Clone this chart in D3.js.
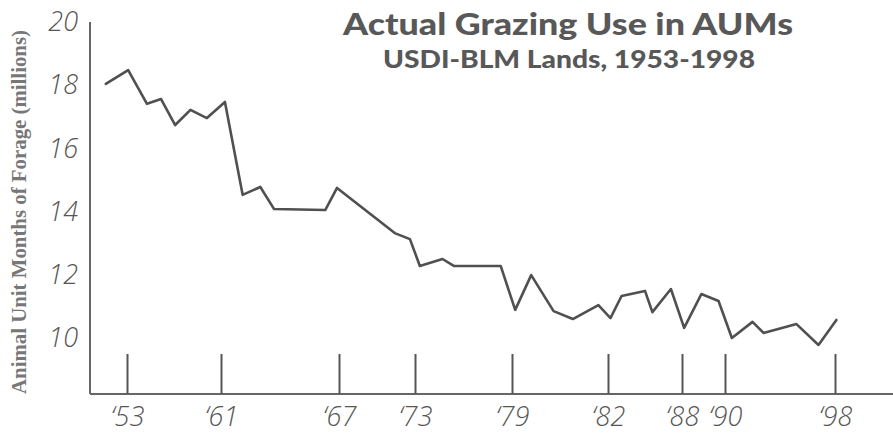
<!DOCTYPE html>
<html>
<head>
<meta charset="utf-8">
<script src="https://cdn.jsdelivr.net/npm/d3@7"></script>
<style>
  body { margin: 0; background: #fff; }
  svg { display: block; }
  .hand { font-family: "Open Sans", sans-serif; font-style: italic; font-weight: 300; fill: #555; }
</style>
</head>
<body>
<div id="chart"></div>
<script>
// values (x in years, y in millions of AUMs)
const years = [1951.2, 1953.1, 1954.7, 1955.9, 1957.1, 1958.4, 1959.8, 1961.2, 1962.1, 1963.0,
               1963.7, 1966.3, 1966.9, 1971.4, 1972.6, 1973.3, 1974.7, 1975.4, 1978.3, 1979.1,
               1979.6, 1980.3, 1980.9, 1981.7, 1982.2, 1983.1, 1985.0, 1985.6, 1987.1, 1988.1,
               1988.9, 1989.7, 1990.5, 1992.0, 1992.8, 1995.2, 1996.8, 1998.1];
const aums = [18.04, 18.48, 17.41, 17.56, 16.74, 17.22, 16.96, 17.47, 14.53, 14.78,
              14.08, 14.05, 14.75, 13.32, 13.13, 12.28, 12.50, 12.28, 12.28, 10.89,
              11.99, 10.85, 10.60, 11.04, 10.63, 11.33, 11.49, 10.82, 11.55, 10.32,
              11.39, 11.17, 10.00, 10.51, 10.16, 10.44, 9.78, 10.57];
const tickYears = [1953, 1961, 1967, 1973, 1979, 1982, 1988, 1990, 1998];
const tickLabels = ["\u201853", "\u201861", "\u201867", "\u201873", "\u201879", "\u201882", "\u201888", "\u201890", "\u201898"];
const yTicks = [10, 12, 14, 16, 18, 20];

const width = 893, height = 437;
const axisX = 90, axisY = 394;

const svg = d3.select("#chart").append("svg")
    .attr("width", width)
    .attr("height", height);

// the drawing's year spacing is uneven, so the x scale is piecewise
const x = d3.scaleLinear()
    .domain(tickYears)
    .range([127, 221, 339, 415, 512, 608, 682, 725, 835]);

const y = d3.scaleLinear()
    .domain([10, 20])
    .range([338, 22]);

// axes lines
svg.append("line")
    .attr("x1", axisX).attr("x2", axisX)
    .attr("y1", 22).attr("y2", axisY)
    .attr("stroke", "#666").attr("stroke-width", 2);

svg.append("line")
    .attr("x1", axisX).attr("x2", width)
    .attr("y1", axisY).attr("y2", axisY)
    .attr("stroke", "#666").attr("stroke-width", 2);

// x ticks pointing up, labels below
const xAxis = d3.axisBottom(x)
    .tickValues(tickYears)
    .tickSizeInner(-40)
    .tickSizeOuter(0)
    .tickPadding(13)
    .tickFormat((d, i) => tickLabels[i]);

const gx = svg.append("g")
    .attr("transform", `translate(0,${axisY})`)
    .call(xAxis);
gx.select(".domain").remove();
gx.selectAll(".tick line").attr("stroke", "#555").attr("stroke-width", 2);
gx.selectAll(".tick text")
    .attr("class", "hand")
    .attr("font-size", 27);

// y labels, no tick marks
const yAxis = d3.axisLeft(y)
    .tickValues(yTicks)
    .tickSize(0)
    .tickPadding(6)
    .tickFormat(d3.format("d"));

const gy = svg.append("g")
    .attr("transform", "translate(84,0)")
    .call(yAxis);
gy.select(".domain").remove();
gy.selectAll(".tick text")
    .attr("class", "hand")
    .attr("font-size", 27);

// y axis title
svg.append("text")
    .attr("transform", "translate(26,212) rotate(-90)")
    .attr("text-anchor", "middle")
    .attr("font-family", "Liberation Serif, serif")
    .attr("font-weight", "bold")
    .attr("font-size", 20)
    .attr("fill", "#777")
    .attr("textLength", 364)
    .attr("lengthAdjust", "spacingAndGlyphs")
    .text("Animal Unit Months of Forage (millions)");

// data line
const line = d3.line()
    .x((d, i) => x(years[i]))
    .y(d => y(d));

svg.append("path")
    .datum(aums)
    .attr("d", line)
    .attr("fill", "none")
    .attr("stroke", "#505050")
    .attr("stroke-width", 2.6)
    .attr("stroke-linejoin", "round")
    .attr("stroke-linecap", "round");

// title
svg.append("text")
    .attr("x", 568).attr("y", 35)
    .attr("text-anchor", "middle")
    .attr("font-family", "Lato, sans-serif")
    .attr("font-weight", 900)
    .attr("font-size", 31)
    .attr("fill", "#585858")
    .attr("textLength", 450)
    .attr("lengthAdjust", "spacingAndGlyphs")
    .text("Actual Grazing Use in AUMs");

svg.append("text")
    .attr("x", 569).attr("y", 68)
    .attr("text-anchor", "middle")
    .attr("font-family", "Lato, sans-serif")
    .attr("font-weight", 900)
    .attr("font-size", 25)
    .attr("fill", "#585858")
    .attr("textLength", 372)
    .attr("lengthAdjust", "spacingAndGlyphs")
    .text("USDI-BLM Lands, 1953-1998");
</script>
</body>
</html>
